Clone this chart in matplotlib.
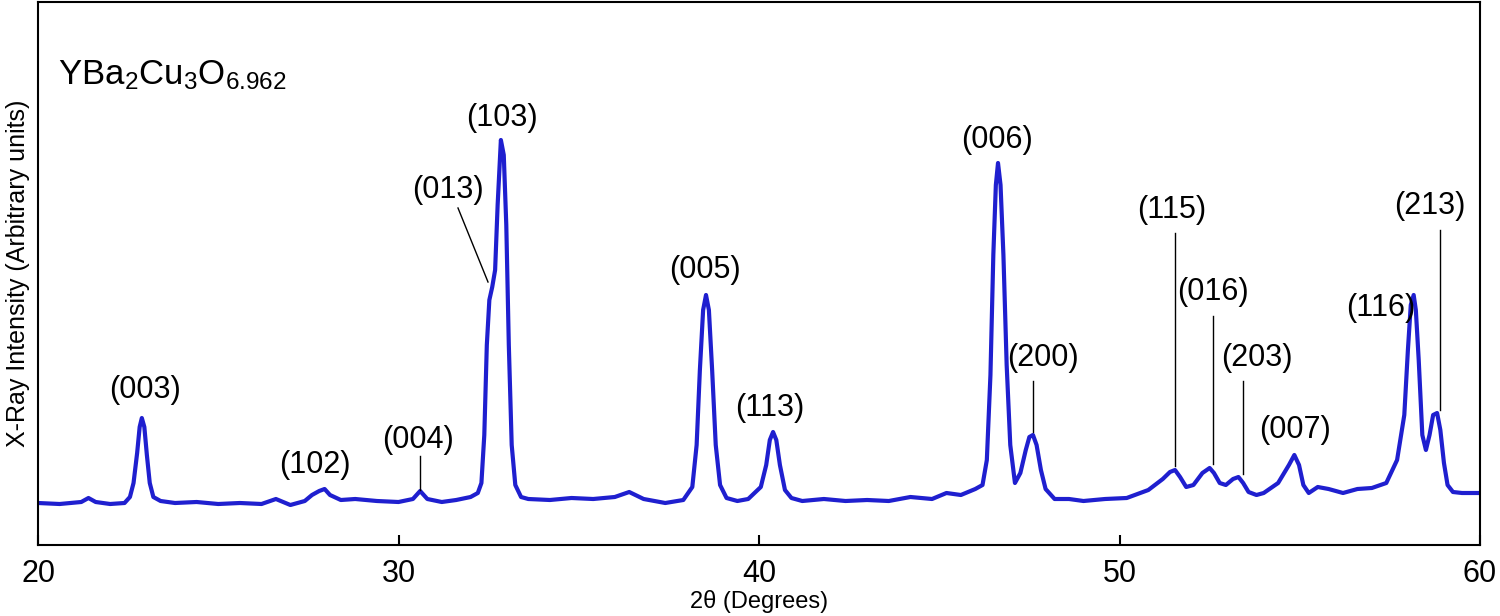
import matplotlib.pyplot as plt

plt.rcParams['font.family'] = ['Liberation Sans', 'DejaVu Sans']
plt.rcParams['mathtext.fontset'] = 'custom'
plt.rcParams['mathtext.rm'] = 'Liberation Sans'
plt.rcParams['mathtext.it'] = 'Liberation Sans'

# curve (2theta, intensity in arbitrary units)
two_theta = [20.0, 20.6, 21.2, 21.4, 21.6, 22.0, 22.4, 22.55, 22.65, 22.75, 22.82, 22.88, 22.95, 23.02, 23.1,
             23.2, 23.4, 23.8, 24.4, 25.0, 25.6, 26.2, 26.6, 27.0, 27.4, 27.6, 27.8, 27.95, 28.1, 28.4, 28.8,
             29.4, 30.0, 30.4, 30.6, 30.8, 31.2, 31.6, 32.0, 32.2, 32.3, 32.38, 32.45, 32.52, 32.6, 32.68,
             32.75, 32.84, 32.92, 32.99, 33.06, 33.14, 33.24, 33.4, 33.6, 34.2, 34.8, 35.4, 36.0, 36.4, 36.8,
             37.4, 37.9, 38.15, 38.27, 38.36, 38.45, 38.53, 38.61, 38.7, 38.8, 38.92, 39.1, 39.4, 39.7, 40.05,
             40.2, 40.3, 40.39, 40.48, 40.58, 40.72, 40.9, 41.2, 41.8, 42.4, 43.0, 43.6, 44.2, 44.8, 45.2,
             45.6, 46.0, 46.2, 46.32, 46.42, 46.5, 46.57, 46.63, 46.7, 46.78, 46.87, 46.97, 47.1, 47.25, 47.4,
             47.5, 47.6, 47.7, 47.82, 47.95, 48.2, 48.6, 49.0, 49.6, 50.2, 50.8, 51.2, 51.4, 51.54, 51.68,
             51.85, 52.05, 52.3, 52.5, 52.62, 52.78, 52.95, 53.15, 53.3, 53.43, 53.58, 53.8, 54.0, 54.4, 54.7,
             54.85, 54.98, 55.1, 55.25, 55.5, 55.8, 56.2, 56.6, 57.0, 57.4, 57.7, 57.9, 58.0, 58.08, 58.16,
             58.22, 58.3, 58.4, 58.5, 58.6, 58.7, 58.81, 58.9, 59.0, 59.1, 59.25, 59.5, 60.0]
intensity = [42, 41, 43, 47, 43, 41, 42, 48, 62, 92, 118, 127, 118, 90, 62, 48, 44, 42, 43, 41, 42, 41, 46, 40,
             44, 50, 54, 56, 50, 45, 46, 44, 43, 46, 54, 46, 43, 45, 48, 52, 62, 110, 200, 245, 258, 275, 340,
             405, 390, 320, 200, 100, 60, 48, 46, 45, 47, 46, 48, 53, 46, 42, 45, 58, 100, 175, 235, 250, 235,
             175, 100, 60, 47, 44, 46, 58, 80, 105, 113, 105, 80, 55, 47, 44, 46, 44, 45, 44, 48, 46, 52, 50,
             56, 60, 85, 170, 290, 360, 382, 360, 290, 180, 100, 62, 72, 95, 108, 110, 100, 75, 56, 46, 46,
             44, 46, 47, 55, 66, 73, 75, 68, 58, 60, 72, 77, 72, 62, 60, 66, 68, 62, 53, 50, 52, 62, 80, 90,
             80, 60, 52, 58, 56, 52, 56, 57, 62, 85, 130, 195, 240, 250, 235, 185, 110, 95, 110, 130, 132, 115,
             82, 60, 53, 52, 52]

labels = ['(003)', '(102)', '(004)', '(013)', '(103)', '(005)', '(113)', '(006)', '(200)',
          '(115)', '(016)', '(203)', '(007)', '(116)', '(213)']
label_px = [(145, 390), (315, 465), (418, 440), (448, 190), (502, 118), (705, 270), (770, 408),
            (997, 140), (1043, 358), (1172, 210), (1213, 292), (1257, 358), (1295, 430), (1381, 308),
            (1430, 206)]
# leader lines (start px, end px)
leaders = {'(004)': ((420, 456), (420, 490)), '(013)': ((458, 208), (488, 282)),
           '(200)': ((1033, 381), (1033, 432)), '(115)': ((1175, 233), (1175, 466)),
           '(016)': ((1213, 316), (1213, 464)), '(203)': ((1243, 381), (1243, 474)),
           '(213)': ((1440, 230), (1440, 410))}


def px2data(px, py):
    return 20 + (px - 38) / 36.05, 545 - py


fig = plt.figure(figsize=(15, 6.16), dpi=100)
ax = fig.add_axes([38 / 1500, 1 - 545 / 616, 1442 / 1500, 543 / 616])
ax.plot(two_theta, intensity, color='#1f1fcf', lw=3, solid_joinstyle='round')
ax.set_xlim(20, 60)
ax.set_ylim(0, 543)
ax.set_yticks([])
ax.set_xticks([20, 30, 40, 50, 60])
ax.tick_params(axis='x', labelsize=22, direction='in', length=7, width=1.5, pad=10)
for s in ax.spines.values():
    s.set_linewidth(1.5)
ax.set_xlabel('2θ (Degrees)', fontsize=17, labelpad=1)
ax.set_ylabel('X-Ray Intensity (Arbitrary units)', fontsize=18, labelpad=6)

for lab, (px, py) in zip(labels, label_px):
    x, y = px2data(px, py)
    ax.text(x, y, lab, fontsize=22, ha='center', va='center')
    if lab in leaders:
        (x0, y0), (x1, y1) = leaders[lab]
        a0 = px2data(x0, y0)
        a1 = px2data(x1, y1)
        ax.plot([a0[0], a1[0]], [a0[1], a1[1]], color='black', lw=1)

ax.text(*px2data(58, 75), 'YBa$_2$Cu$_3$O$_{6.962}$', fontsize=25, ha='left', va='center')

fig.savefig('out.png')
